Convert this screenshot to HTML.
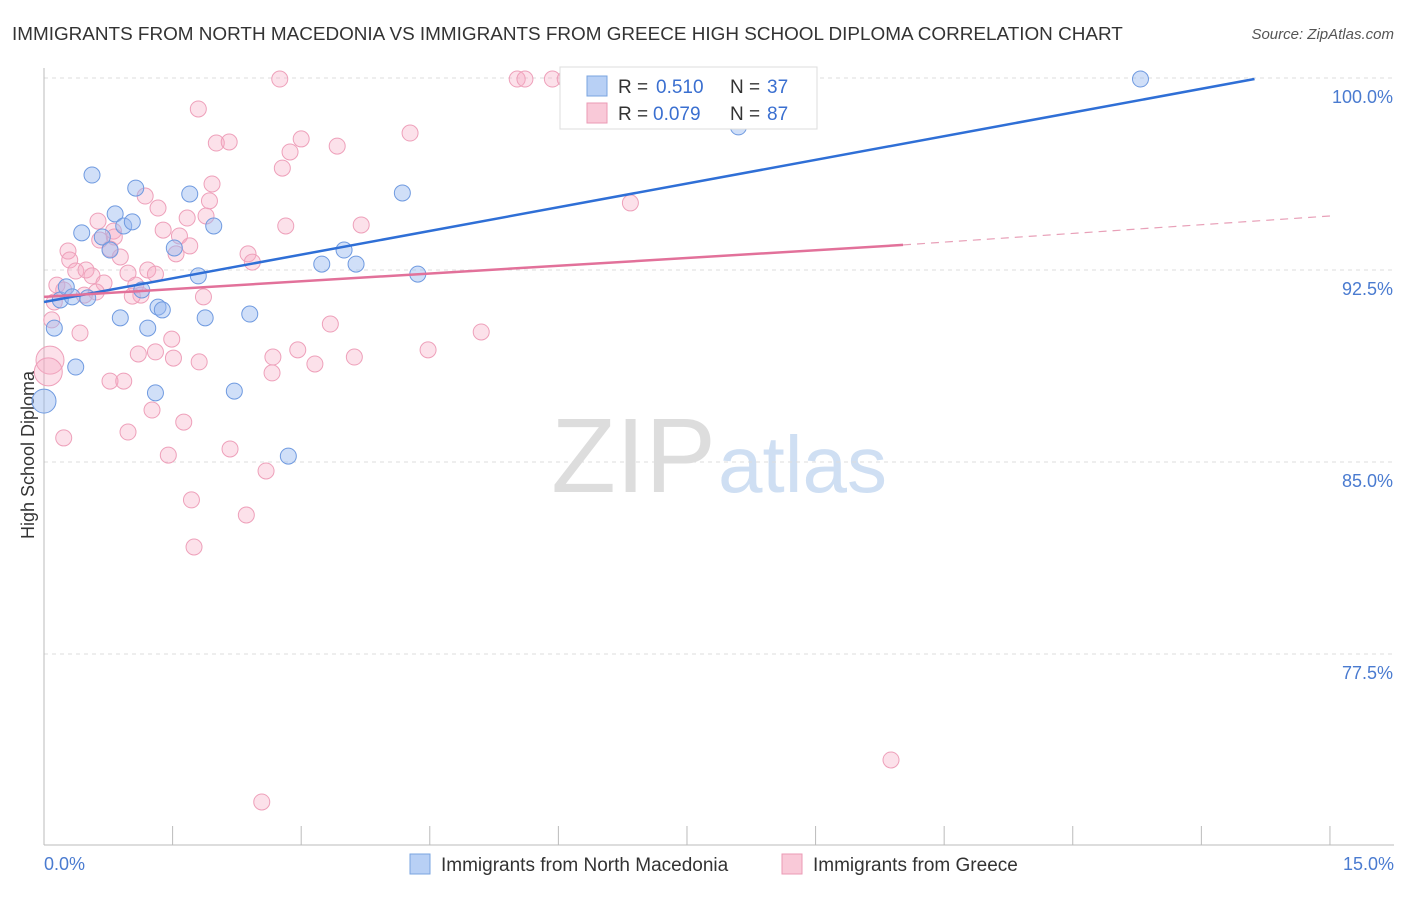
<!DOCTYPE html>
<html><head><meta charset="utf-8"><style>
body{margin:0;background:#fff;font-family:"Liberation Sans",sans-serif}
svg text{font-family:"Liberation Sans",sans-serif}
</style></head><body>
<svg id="c" width="1406" height="892">
<text x="12" y="40" font-size="18.9" fill="#333">IMMIGRANTS FROM NORTH MACEDONIA VS IMMIGRANTS FROM GREECE HIGH SCHOOL DIPLOMA CORRELATION CHART</text>
<text x="1394" y="39" font-size="15" fill="#555" text-anchor="end" font-style="italic">Source: ZipAtlas.com</text>
<text x="716" y="492" font-size="106" fill="#ddd" text-anchor="end" font-family="Liberation Serif">ZIP</text>
<text x="718" y="492" font-size="80" fill="#cfdff3">atlas</text>
<text transform="translate(34,455) rotate(-90)" font-size="18" fill="#333" text-anchor="middle">High School Diploma</text>
<g id="grid"></g><g id="pts"></g><g id="lines"></g>
<g>
<rect x="560" y="67" width="257" height="62" fill="#fff" stroke="#ddd"/>
<rect x="587" y="76" width="20" height="20" fill="#b8d0f5" stroke="#7aa4e0"/>
<text x="618" y="93" font-size="19" fill="#333">R =</text>
<text x="656" y="93" font-size="19" fill="#3a6fd0">0.510</text>
<text x="730" y="93" font-size="19" fill="#333">N =</text>
<text x="767" y="93" font-size="19" fill="#3a6fd0">37</text>
<rect x="587" y="103" width="20" height="20" fill="#f9c9d8" stroke="#eb9ab5"/>
<text x="618" y="120" font-size="19" fill="#333">R =</text>
<text x="653" y="120" font-size="19" fill="#3a6fd0">0.079</text>
<text x="730" y="120" font-size="19" fill="#333">N =</text>
<text x="767" y="120" font-size="19" fill="#3a6fd0">87</text>
</g>
<g>
<rect x="410" y="854" width="20" height="20" fill="#b8d0f5" stroke="#7aa4e0"/>
<text x="441" y="871" font-size="19" fill="#333">Immigrants from North Macedonia</text>
<rect x="782" y="854" width="20" height="20" fill="#f9c9d8" stroke="#eb9ab5"/>
<text x="813" y="871" font-size="19" fill="#333">Immigrants from Greece</text>
</g>
</svg>
<script>
const yTicks=[100,92.5,85,77.5];
const yTickLabels=["100.0%","92.5%","85.0%","77.5%"];
const xTicks=[0,1.5,3,4.5,6,7.5,9,10.5,12,13.5,15];
const blueX=[0.00,0.12,0.37,0.19,0.26,0.33,0.44,0.51,0.56,0.68,0.77,0.83,0.93,1.03,1.07,0.89,1.14,1.21,1.30,1.33,1.38,1.52,1.70,1.80,1.88,1.98,2.22,2.40,2.85,3.24,3.50,3.64,4.18,4.36,8.10,12.79];
const blueY=[87.38,90.23,88.71,91.33,91.84,91.45,93.95,91.41,96.21,93.79,93.28,94.69,94.22,94.38,95.70,90.63,91.72,90.23,87.70,91.05,90.94,93.36,95.47,92.27,90.63,94.22,87.77,90.78,85.23,92.73,93.28,92.73,95.51,92.34,98.09,99.96];
const pinkX=[2.75,5.52,5.61,5.93,6.08,1.80,2.01,2.16,3.00,3.42,4.27,2.87,2.78,1.96,1.18,1.93,1.33,1.89,1.67,0.63,2.82,3.70,6.84,0.81,1.39,1.58,0.65,0.82,0.77,1.70,1.54,0.28,0.89,2.38,2.43,0.30,0.37,0.49,0.98,1.21,1.30,0.56,0.15,0.70,0.23,1.07,1.13,1.03,0.61,0.47,1.86,0.12,0.09,0.42,3.34,5.10,1.49,1.30,1.10,2.96,3.62,4.48,1.51,2.67,1.81,3.16,2.66,0.77,0.93,0.07,0.05,1.26,1.63,0.98,0.23,2.17,1.45,2.59,1.72,2.36,1.75,9.88,2.54];
const pinkY=[99.96,99.96,99.96,99.96,99.96,98.79,97.46,97.50,97.62,97.34,97.85,97.11,96.48,95.86,95.39,95.20,94.92,94.61,94.53,94.41,94.22,94.26,95.12,94.02,94.06,93.83,93.67,93.79,93.32,93.44,93.13,93.24,93.01,93.13,92.81,92.89,92.46,92.50,92.38,92.50,92.34,92.27,91.91,91.99,91.72,91.91,91.52,91.48,91.64,91.52,91.45,91.25,90.55,90.04,90.39,90.08,89.80,89.30,89.22,89.38,89.10,89.38,89.06,89.10,88.91,88.83,88.48,88.16,88.16,88.98,88.52,87.03,86.56,86.17,85.94,85.51,85.27,84.65,83.52,82.93,81.68,73.36,71.72];
const blueTrendX=[0,14.12], blueTrendY=[91.25,99.96];
const pinkTrendX=[0,10.02,15], pinkTrendY=[91.45,93.48,94.61];
const sx=v=>44+v*85.73, sy=v=>78+(100-v)*25.6;
const NS="http://www.w3.org/2000/svg";
function mk(p,t,a){const e=document.createElementNS(NS,t);for(const k in a)e.setAttribute(k,a[k]);p.appendChild(e);return e;}
const g=document.getElementById('grid');
yTicks.forEach((t,i)=>{
 const l=mk(g,'line',{x1:44,x2:1394,y1:sy(t),y2:sy(t),stroke:'#ddd','stroke-dasharray':'4,4'});
 
 
 const tx=mk(g,'text',{x:1393,y:sy(t)+25,'font-size':18,fill:'#4a7bd0','text-anchor':'end'});tx.textContent=yTickLabels[i];
 
 
});
const ax=mk(g,'line',{x1:44,x2:44,y1:68,y2:845,stroke:'#bbb'});


const bx=mk(g,'line',{x1:44,x2:1394,y1:845,y2:845,stroke:'#bbb'});


xTicks.forEach(t=>{const l=mk(g,'line',{x1:sx(t),x2:sx(t),y1:826,y2:845,stroke:'#bbb'});
 
 });
const x0=mk(g,'text',{x:44,y:870,'font-size':18,fill:'#4a7bd0'});x0.textContent='0.0%';


const x1=mk(g,'text',{x:1394,y:870,'font-size':18,fill:'#4a7bd0','text-anchor':'end'});x1.textContent='15.0%';


const P=document.getElementById('pts');
pinkX.forEach((x,i)=>{const r=(i==69||i==70)?14:8;const c=mk(P,'circle',{cx:sx(x),cy:sy(pinkY[i]),r:r,fill:'rgba(246,170,195,0.35)',stroke:'#eea0ba','stroke-width':1});
 
 });
blueX.forEach((x,i)=>{const r=i==0?12:8;const c=mk(P,'circle',{cx:sx(x),cy:sy(blueY[i]),r:r,fill:'rgba(150,185,240,0.45)',stroke:'#6f9ae0','stroke-width':1});
 
 });
const L=document.getElementById('lines');
const b=mk(L,'line',{x1:sx(blueTrendX[0]),y1:sy(blueTrendY[0]),x2:sx(blueTrendX[1]),y2:sy(blueTrendY[1]),stroke:'#2f6fd6','stroke-width':2.5});


const p1=mk(L,'line',{x1:sx(pinkTrendX[0]),y1:sy(pinkTrendY[0]),x2:sx(pinkTrendX[1]),y2:sy(pinkTrendY[1]),stroke:'#e2719a','stroke-width':2.5});


const p2=mk(L,'line',{x1:sx(pinkTrendX[1]),y1:sy(pinkTrendY[1]),x2:sx(pinkTrendX[2]),y2:sy(pinkTrendY[2]),stroke:'#e8a0b8','stroke-width':1.2,'stroke-dasharray':'8,6'});


</script>
</body></html>
